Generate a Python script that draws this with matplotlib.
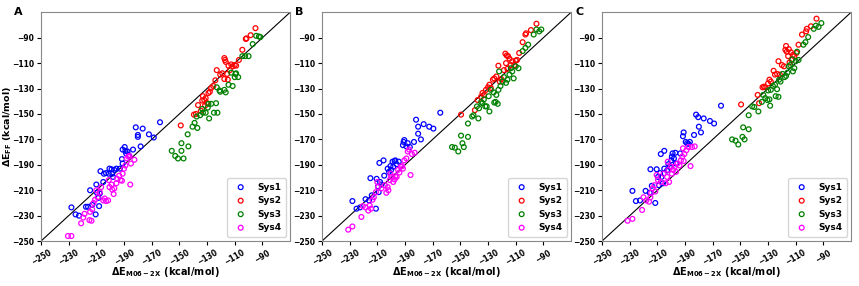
import matplotlib
matplotlib.use("Agg")
import matplotlib.pyplot as plt

# ---- panel A ----
a_sys1_x = [-228, -225, -222.5, -217.5, -216, -214.5, -213, -210.5, -210, -209.5, -208.5, -208, -207.5, -207, -205, -204.5,
            -203, -201, -200.5, -199, -198.5, -198, -197, -195.5, -193, -191.5, -191, -189.5, -189, -188.5, -187.5, -186.5,
            -191, -183.5, -181.5, -180, -180, -178, -176.5, -172, -168.5, -164]
a_sys1_y = [-223.5, -229, -230, -223, -223, -210, -221.5, -229, -205.5, -212, -216, -222.5, -212.5, -195, -203.5, -197,
            -196.5, -197, -193, -193.5, -197, -199.5, -194, -193, -193, -185.5, -178, -176, -179, -181, -179.5, -182.5,
            -189, -178, -160.5, -168, -166.5, -175.5, -161.5, -166, -168.5, -156.5]
a_sys4_x = [-230.5, -228, -221, -219.5, -218.5, -215, -213.5, -214.5, -213, -212, -211, -210, -209, -207.5, -206.5, -205,
            -204, -203, -201.5, -201, -200.5, -199, -198.5, -197.5, -197, -195.5, -195, -193.5, -192.5, -191.5, -191,
            -190, -189, -188, -187, -186, -185.5, -185, -182.5]
a_sys4_y = [-246, -246, -236, -231.5, -228.5, -233.5, -234, -227, -225, -220, -217.5, -210, -215.5, -211.5, -207.5, -218,
            -216.5, -218.5, -218, -202, -207.5, -205.5, -209.5, -213, -208.5, -204.5, -201, -198.5, -202, -202.5, -197,
            -193, -190.5, -185, -183.5, -183, -205.5, -189, -186]
a_sys2_x = [-149, -139.5, -138, -136.5, -134.5, -133.5, -133, -132, -131.5, -131, -130, -129, -128, -127, -125.5, -124,
            -123, -120.5, -119, -117.5, -117.5, -117, -116.5, -115.5, -115, -114.5, -113.5, -112.5, -111.5, -110, -109,
            -107, -104.5, -102, -101.5, -98.5, -95]
a_sys2_y = [-159, -150.5, -150, -143, -147.5, -139.5, -136, -139, -143.5, -137.5, -141.5, -133.5, -132.5, -129.5, -128,
            -123.5, -115.5, -119, -118, -122.5, -106, -107.5, -109, -118.5, -123, -112, -115.5, -111, -112.5, -111.5,
            -112, -107.5, -99.5, -91, -90.5, -88, -82.5]
a_sys3_x = [-155.5, -153, -151, -148.5, -148.5, -147, -144, -143.5, -140.5, -139, -137, -137.5, -135, -133.5, -133, -131,
            -129.5, -129, -128.5, -127, -125, -123.5, -122.5, -123, -121, -120.5, -117.5, -116.5, -114.5, -112.5, -111.5,
            -110, -109.5, -109, -107.5, -104.5, -102.5, -100, -97, -94.5, -92.5, -91.5]
a_sys3_y = [-179, -183, -185, -173, -179, -185, -166, -175.5, -160, -157, -161, -152, -151, -146, -149, -149, -145, -142,
            -153.5, -142, -149, -141.5, -149, -129, -131.5, -132.5, -131, -133, -127, -117.5, -128, -121, -118.5, -118,
            -121, -104.5, -104.5, -104.5, -95, -88.5, -89, -89.5]

# ---- panel B ----
b_sys1_x = [-228, -225, -222.5, -218.5, -216, -215, -214, -211, -210.5, -209.5, -209, -208.5, -208, -207, -205.5, -205,
            -202.5, -201.5, -200.5, -200, -199, -198.5, -197.5, -197, -196, -194.5, -191.5, -191, -190.5, -189, -188,
            -186.5, -183.5, -182, -180.5, -180.5, -178.5, -176.5, -172.5, -169.5, -164.5]
b_sys1_y = [-218.5, -224.5, -223.5, -217, -218, -200.5, -214, -224.5, -201, -207, -211.5, -188.5, -203.5, -205.5, -186.5,
            -198.5, -193, -195.5, -191, -194, -187.5, -191.5, -187, -186.5, -189.5, -187.5, -174.5, -172, -170.5, -175.5,
            -173, -176, -172, -154.5, -160, -165.5, -170, -158, -160, -161.5, -149]
b_sys4_x = [-231, -228, -221.5, -220.5, -218.5, -216.5, -215.5, -214.5, -213.5, -212.5, -211, -210, -209.5, -207, -204.5,
            -203.5, -202.5, -202, -201, -200.5, -200, -198.5, -197.5, -197, -196, -195, -194, -193, -192, -191.5, -190.5,
            -189, -188, -187, -186, -185, -183]
b_sys4_y = [-241, -238.5, -231, -222.5, -223.5, -226, -222, -224.5, -217.5, -215.5, -211.5, -203.5, -207.5, -208.5, -206,
            -212, -207.5, -210, -202, -197, -199.5, -203.5, -201.5, -199, -199.5, -194, -196, -191.5, -191, -193, -186.5,
            -185, -179.5, -178, -198, -181.5, -180.5]
b_sys2_x = [-149.5, -139.5, -137.5, -135, -134, -133, -131.5, -130, -129, -128, -126.5, -125.5, -124, -122.5, -121.5,
            -120.5, -118.5, -117.5, -117, -116.5, -116, -115.5, -114.5, -113.5, -112.5, -111, -110, -109, -107.5, -105,
            -103, -102.5, -99, -95]
b_sys2_y = [-150.5, -147, -139, -136.5, -133.5, -135, -131, -129, -127, -129.5, -123, -122, -120.5, -112, -124.5, -122.5,
            -115.5, -102.5, -110, -104, -114.5, -104.5, -106.5, -111.5, -108.5, -111.5, -108, -107.5, -102, -93.5, -87.5,
            -86.5, -84, -79]
b_sys3_x = [-156, -154, -151.5, -149.5, -148.5, -147.5, -144.5, -144.5, -141.5, -140.5, -138, -137, -136.5, -135, -134,
            -133, -132, -131, -129.5, -129, -128, -126, -125.5, -124.5, -124, -123, -122.5, -122, -121, -119.5, -118.5,
            -117, -116, -114.5, -113.5, -112.5, -111.5, -110, -108, -105, -103, -101, -97, -95, -93, -91.5]
b_sys3_y = [-176, -176.5, -179.5, -167, -173, -176, -168, -157.5, -152, -151, -144, -153.5, -145.5, -140.5, -141.5, -138.5,
            -144, -144, -136, -148, -131, -133, -141, -140.5, -135, -142, -131, -116.5, -128, -124.5, -121, -125.5,
            -123, -119, -114, -116.5, -122, -112.5, -114, -100.5, -98, -95.5, -87.5, -83.5, -85, -83.5]

# ---- panel C ----
c_sys1_x = [-228, -225.5, -222.5, -218.5, -215.5, -215, -214, -211.5, -210.5, -209.5, -209, -208, -207.5, -207, -206,
            -205, -205, -203, -202, -201, -200, -199.5, -199, -198, -197, -196.5, -193.5, -191.5, -191, -189.5, -188.5,
            -187.5, -186.5, -183.5, -182, -180.5, -180, -178.5, -176.5, -172, -169, -164]
c_sys1_y = [-210.5, -218.5, -218, -210.5, -212, -193.5, -206.5, -220, -193.5, -199.5, -206, -196.5, -181.5, -199.5, -204.5,
            -179, -193, -194.5, -189.5, -191.5, -186.5, -183.5, -181, -185, -180.5, -189, -181, -167.5, -164.5, -172,
            -173, -173.5, -172, -166.5, -150.5, -152.5, -160, -164.5, -153.5, -155.5, -157.5, -143.5]
c_sys4_x = [-231.5, -228, -221, -220, -218, -216, -215, -214.5, -213.5, -212, -211.5, -210.5, -209.5, -207.5, -205.5,
            -204, -203, -202.5, -202, -201.5, -200, -199.5, -198.5, -197.5, -196.5, -195.5, -194, -193, -192, -191.5,
            -191, -190.5, -189, -187.5, -186, -185, -183]
c_sys4_y = [-234, -232.5, -225.5, -215.5, -218, -219, -215.5, -212, -208.5, -206, -211, -198, -202, -203.5, -197, -204.5,
            -199.5, -187.5, -194, -203.5, -191.5, -197, -194, -191.5, -195.5, -189, -190.5, -186.5, -183.5, -177, -187,
            -181.5, -178.5, -176, -191, -176, -175.5]
c_sys2_x = [-149.5, -137.5, -136.5, -134, -133, -132, -130, -129, -128, -126, -125, -123.5, -122.5, -121.5, -120,
            -118.5, -117.5, -117, -116.5, -115.5, -115, -114.5, -113.5, -113, -112, -111, -109.5, -108, -105.5, -102.5,
            -102, -99, -95]
c_sys2_y = [-142.5, -135, -141.5, -129, -128.5, -129, -126, -123, -124.5, -116, -119, -118.5, -108.5, -119, -111.5,
            -112.5, -99.5, -96.5, -101, -104.5, -99, -109.5, -101.5, -107.5, -103.5, -104.5, -102, -95.5, -87.5, -85,
            -83, -81, -75]
c_sys3_x = [-156, -153.5, -151.5, -148.5, -147, -148, -144, -144, -141.5, -140, -137, -134.5, -133.5, -132, -130.5, -130,
            -129, -128.5, -128, -126.5, -125, -124.5, -123.5, -122.5, -122, -121, -119.5, -118, -117, -116, -115, -114,
            -112.5, -112, -111, -110, -109, -108, -104.5, -103, -101, -97, -95.5, -93.5, -91.5]
c_sys3_y = [-170, -171, -174, -168, -170, -160.5, -162, -151, -144, -144.5, -148, -140.5, -135, -137.5, -139, -131.5,
            -138.5, -143.5, -131, -128, -127, -136, -130.5, -136.5, -123, -124.5, -118.5, -121, -120, -117.5, -112.5,
            -111.5, -107, -116.5, -114, -108.5, -101, -107.5, -95.5, -93.5, -89.5, -83, -80.5, -81.5, -78.5]

labels = ["Sys1", "Sys2", "Sys3", "Sys4"]
colors = ["blue", "red", "green", "magenta"]
ticks = list(range(-250, -89, 20))

panels = [
    ("A", [(a_sys1_x, a_sys1_y), (a_sys2_x, a_sys2_y), (a_sys3_x, a_sys3_y), (a_sys4_x, a_sys4_y)]),
    ("B", [(b_sys1_x, b_sys1_y), (b_sys2_x, b_sys2_y), (b_sys3_x, b_sys3_y), (b_sys4_x, b_sys4_y)]),
    ("C", [(c_sys1_x, c_sys1_y), (c_sys2_x, c_sys2_y), (c_sys3_x, c_sys3_y), (c_sys4_x, c_sys4_y)]),
]
lefts = [0.0477, 0.3748, 0.7008]

fig = plt.figure(figsize=(8.59, 2.86), dpi=100)

for i, (name, series) in enumerate(panels):
    ax = fig.add_axes([lefts[i], 0.157, 0.29, 0.80])
    ax.plot([-250, -70], [-250, -70], color="black", lw=0.8, zorder=1)
    for (xs, ys), lab, c in zip(series, labels, colors):
        ax.scatter(xs, ys, s=12, facecolors="none", edgecolors=c, linewidths=0.9, label=lab, zorder=2)
    ax.set_xlim(-250, -70)
    ax.set_ylim(-250, -70)
    ax.set_xticks(ticks)
    ax.set_yticks(ticks)
    ax.tick_params(labelsize=5.5, length=3, pad=2)
    for t in ax.get_xticklabels():
        t.set_rotation(30)
        t.set_fontweight("bold")
    for t in ax.get_yticklabels():
        t.set_fontweight("bold")
    for sp in ax.spines.values():
        sp.set_color("#888888")
    ax.set_xlabel(r"$\mathbf{\Delta E_{M06-2X}}$ (kcal/mol)", fontsize=7, fontweight="bold")
    ax.xaxis.set_label_coords(0.5, -0.105)
    if i == 0:
        ax.set_ylabel(r"$\mathbf{\Delta E_{FF}}$ (kcal/mol)", fontsize=6.8, fontweight="bold")
        ax.yaxis.set_label_coords(-0.11, 0.5)
    ax.text(-0.075, 1.0, name, transform=ax.transAxes, fontsize=8, fontweight="bold", ha="right", va="center")
    leg = ax.legend(loc="lower right", prop={"weight": "bold", "size": 6.5}, handletextpad=0.8,
                    borderpad=0.5, labelspacing=0.5)

fig.savefig("out.png", dpi=100)
